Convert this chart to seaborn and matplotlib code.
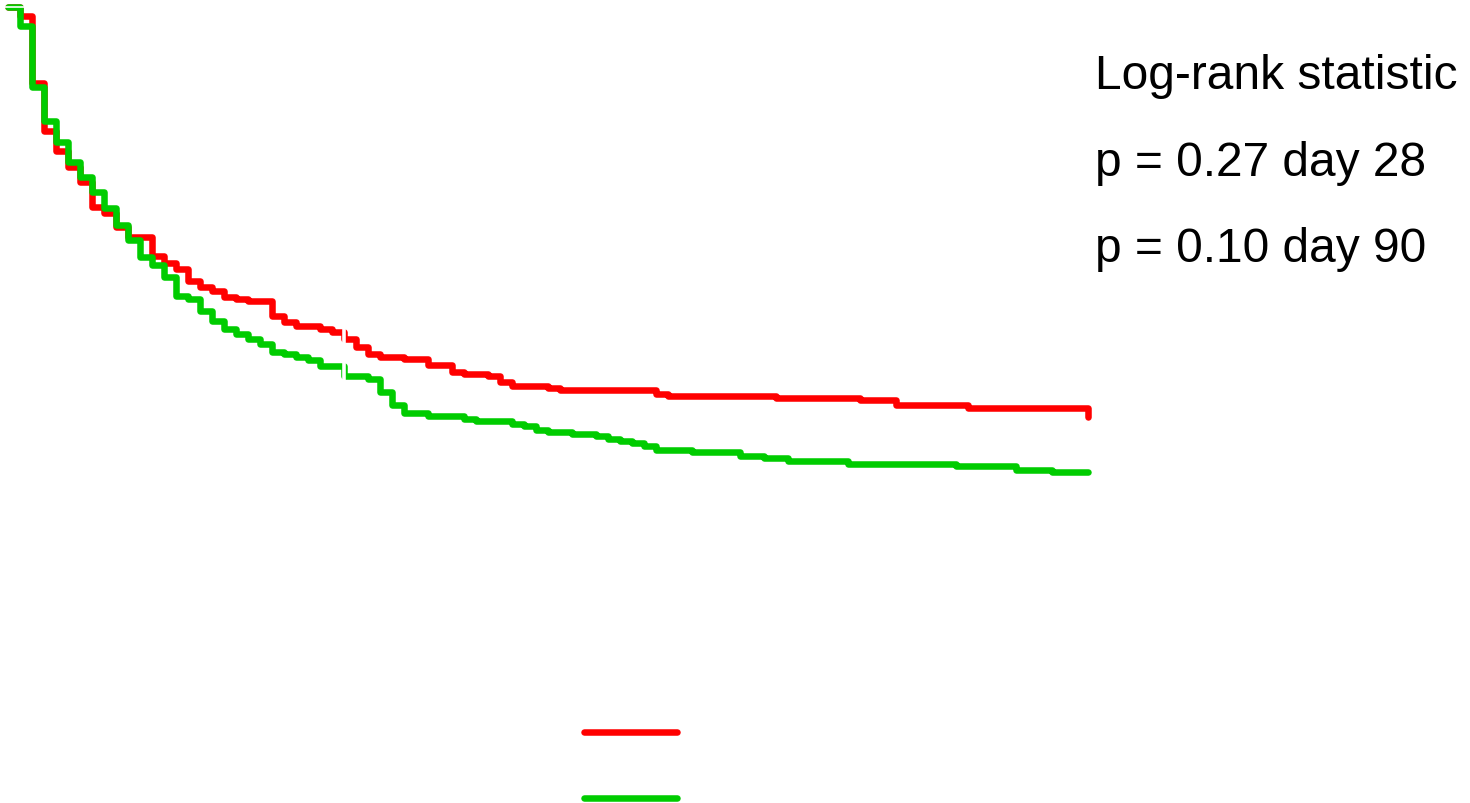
import matplotlib
matplotlib.use("Agg")
import matplotlib.pyplot as plt
from matplotlib.lines import Line2D
import numpy as np
import pandas as pd
import seaborn as sns

# Kaplan-Meier survival estimates (day, survival probability after the event)
days_red = [0, 1, 2, 3, 4, 5, 6, 7, 8, 9, 10, 12, 13, 14, 15, 16, 17, 18, 19, 20,
            22, 23, 24, 26, 27, 28, 29, 30, 31, 33, 35, 37, 38, 40, 41, 42, 45, 46,
            54, 55, 64, 71, 74, 80, 90]
surv_red = [1.000, 0.987, 0.890, 0.821, 0.792, 0.769, 0.747, 0.711, 0.702, 0.682,
            0.668, 0.640, 0.630, 0.621, 0.604, 0.595, 0.590, 0.581, 0.578, 0.575,
            0.553, 0.545, 0.539, 0.535, 0.530, 0.520, 0.509, 0.499, 0.494, 0.491,
            0.483, 0.473, 0.470, 0.467, 0.458, 0.452, 0.449, 0.447, 0.441, 0.438,
            0.435, 0.432, 0.425, 0.421, 0.408]

days_green = [0, 1, 2, 3, 4, 5, 6, 7, 8, 9, 10, 11, 12, 13, 14, 15, 16, 17, 18, 19,
              20, 21, 22, 23, 24, 25, 26, 28, 30, 31, 32, 33, 35, 38, 39, 42, 43, 44,
              45, 47, 49, 50, 51, 52, 53, 54, 57, 61, 63, 65, 70, 79, 84, 87, 90]
surv_green = [1.000, 0.973, 0.884, 0.835, 0.805, 0.776, 0.754, 0.733, 0.710, 0.685,
              0.663, 0.639, 0.627, 0.610, 0.582, 0.578, 0.561, 0.546, 0.535, 0.527,
              0.520, 0.513, 0.501, 0.499, 0.494, 0.490, 0.481, 0.467, 0.462, 0.444,
              0.425, 0.413, 0.409, 0.405, 0.402, 0.397, 0.395, 0.389, 0.386, 0.383,
              0.380, 0.376, 0.373, 0.370, 0.366, 0.360, 0.357, 0.351, 0.348, 0.344,
              0.340, 0.337, 0.331, 0.328, 0.328]

stat_lines = ["Log-rank statistic", "p = 0.27 day 28", "p = 0.10 day 90"]

RED = "#ff0000"
GREEN = "#00cc00"

sns.set_style("white")
plt.rcParams["font.family"] = ["Liberation Sans", "DejaVu Sans"]

fig = plt.figure(figsize=(14.7, 8.04), dpi=100)
ax = fig.add_axes([0, 0, 1, 1])

line_kw = dict(drawstyle="steps-post", linewidth=4.7, estimator=None,
               solid_joinstyle="round", solid_capstyle="round")

red_df = pd.DataFrame({"day": days_red, "survival": surv_red})
green_df = pd.DataFrame({"day": days_green, "survival": surv_green})
sns.lineplot(data=red_df, x="day", y="survival", color=RED, ax=ax, **line_kw)
sns.lineplot(data=green_df, x="day", y="survival", color=GREEN, ax=ax, **line_kw)

# white reference lines at full survival and at day 28
ax.axhline(1.0, color="white", linewidth=1.2, zorder=5)
ax.axvline(28, color="white", linewidth=2.6, zorder=5)

ax.set_xlim(-8 / 12, 1462 / 12)
ax.set_ylim(-104 / 692, 1 + 8 / 692)
ax.set_axis_off()

# legend: coloured lines only
handles = [Line2D([], [], color=RED, linewidth=4.7, solid_capstyle="round"),
           Line2D([], [], color=GREEN, linewidth=4.7, solid_capstyle="round")]
fig.legend(handles, [" ", " "], loc="upper left",
           bbox_to_anchor=(584 / 1470, 1 - 727 / 804),
           frameon=False, fontsize=12, handlelength=5.6, handletextpad=0,
           borderpad=0, borderaxespad=0, labelspacing=3.06)

for i, txt in enumerate(stat_lines):
    fig.text(1095 / 1470, 1 - (89 + 86.5 * i) / 804, txt, fontsize=34.5,
             va="baseline", ha="left", color="black")

fig.savefig("out.png", dpi=100)
